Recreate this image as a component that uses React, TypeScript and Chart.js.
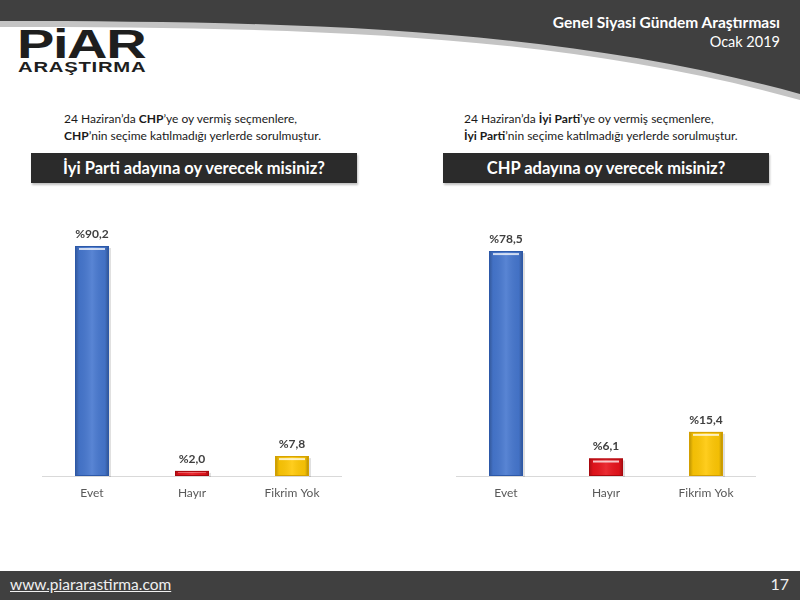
import React, { useEffect, useRef } from "react";
import { Chart, registerables } from "chart.js";

Chart.register(...registerables);

const categories = ["Evet", "Hayır", "Fikrim Yok"];
const leftValues = [90.2, 2.0, 7.8];
const rightValues = [78.5, 6.1, 15.4];
const leftValueLabels = ["%90,2", "%2,0", "%7,8"];
const rightValueLabels = ["%78,5", "%6,1", "%15,4"];
const barFill = ["#4677cf", "#e8141c", "#ffc805"];
const barEdge = ["#2c58a8", "#a8080e", "#d39f00"];

const FONT = "Lato, 'Open Sans', sans-serif";

const bevelPlugin = {
  id: "bevel",
  afterDatasetsDraw(chart: any) {
    const ctx = chart.ctx;
    const meta = chart.getDatasetMeta(0);
    meta.data.forEach((bar: any, i: number) => {
      const { x, y, base, width } = bar.getProps(["x", "y", "base", "width"], true);
      const l = x - width / 2;
      const r = x + width / 2;
      const h = base - y;
      ctx.save();
      const g = ctx.createLinearGradient(l, 0, r, 0);
      g.addColorStop(0, "rgba(0,0,0,0.28)");
      g.addColorStop(0.12, "rgba(0,0,0,0.05)");
      g.addColorStop(0.5, "rgba(255,255,255,0.10)");
      g.addColorStop(0.88, "rgba(0,0,0,0.05)");
      g.addColorStop(1, "rgba(0,0,0,0.32)");
      ctx.fillStyle = g;
      ctx.fillRect(l, y, width, h);
      if (h > 6) {
        ctx.fillStyle = "rgba(255,255,255,0.75)";
        ctx.fillRect(l + 4, y + 2, width - 8, 2);
      } else {
        ctx.fillStyle = "rgba(255,255,255,0.35)";
        ctx.fillRect(l + 3, y + 1, width - 6, 1);
      }
      ctx.fillStyle = "rgba(0,0,0,0.12)";
      ctx.fillRect(r, y + 2, 2, h - 1);
      ctx.strokeStyle = barEdge[i];
      ctx.lineWidth = 1;
      ctx.strokeRect(l + 0.5, y + 0.5, width - 1, h - 1);
      ctx.restore();
    });
  },
};

const valueLabelPlugin = {
  id: "valueLabels",
  afterDatasetsDraw(chart: any, _args: any, opts: any) {
    const ctx = chart.ctx;
    const meta = chart.getDatasetMeta(0);
    ctx.save();
    ctx.font = `bold 12px ${FONT}`;
    ctx.fillStyle = "#404040";
    ctx.textAlign = "center";
    ctx.textBaseline = "bottom";
    meta.data.forEach((bar: any, i: number) => {
      ctx.fillText(opts.labels[i], bar.x, bar.y - 6);
    });
    ctx.restore();
  },
};

function BarChart({ values, labels, max }: { values: number[]; labels: string[]; max: number }) {
  const ref = useRef<HTMLCanvasElement>(null);
  useEffect(() => {
    if (!ref.current) return;
    const chart = new Chart(ref.current, {
      type: "bar",
      data: {
        labels: categories,
        datasets: [
          {
            data: values,
            backgroundColor: barFill,
            borderWidth: 0,
            categoryPercentage: 1,
            barPercentage: 0.34,
          },
        ],
      },
      options: {
        animation: false,
        responsive: false,
        maintainAspectRatio: false,
        layout: { padding: { top: 21, bottom: 9.6, left: 0, right: 0 } },
        plugins: {
          legend: { display: false },
          tooltip: { enabled: false },
          valueLabels: { labels },
        } as any,
        scales: {
          x: {
            grid: { display: false, drawTicks: false },
            border: { display: true, color: "#d9d9d9", width: 1 },
            ticks: { color: "#595959", font: { family: FONT, size: 12 }, padding: 10 },
          },
          y: { display: false, min: 0, max },
        },
      },
      plugins: [bevelPlugin, valueLabelPlugin],
    });
    return () => chart.destroy();
  }, []);
  return <canvas ref={ref} width={300} height={320} style={{ width: 300, height: 320, display: "block" }} />;
}

export default function App() {
  const sub: React.CSSProperties = {
    position: "absolute",
    fontFamily: FONT,
    fontSize: 12,
    color: "#1a1a1a",
    lineHeight: "17px",
    whiteSpace: "nowrap",
  };
  const box: React.CSSProperties = {
    position: "absolute",
    top: 153,
    width: 326,
    height: 30,
    background: "#2b2b2b",
    color: "#ffffff",
    fontFamily: FONT,
    fontWeight: 700,
    fontSize: 16.5,
    lineHeight: "30px",
    textAlign: "center",
    boxShadow: "1px 2px 2px rgba(0,0,0,0.25)",
    whiteSpace: "nowrap",
  };
  return (
    <div style={{ position: "absolute", left: 0, top: 0, width: 800, height: 600, overflow: "hidden", background: "#ffffff" }}>
      <svg width={800} height={110} style={{ position: "absolute", left: 0, top: 0 }}>
        <path d="M0,0 H800 V100 C 560,33 300,27 0,27 Z" fill="#c4c4c4" />
        <path d="M0,0 H800 V94 C 560,28 300,21 0,21 Z" fill="#404040" />
      </svg>
      <div style={{ position: "absolute", right: 20, top: 13, color: "#fff", fontFamily: FONT, fontWeight: 700, fontSize: 15.5, whiteSpace: "nowrap" }}>
        Genel Siyasi Gündem Araştırması
      </div>
      <div style={{ position: "absolute", right: 20, top: 33, color: "#fff", fontFamily: FONT, fontSize: 14.5, whiteSpace: "nowrap" }}>
        Ocak 2019
      </div>
      <div style={{ position: "absolute", left: 17, top: 24, fontFamily: "'Liberation Sans', Arial, sans-serif", fontWeight: 900, fontSize: 40, color: "#1e1e1e", lineHeight: "40px", transform: "scaleX(1.4)", transformOrigin: "left top", letterSpacing: -1 }}>
        PiAR
      </div>
      <div style={{ position: "absolute", left: 18, top: 59, fontFamily: "'Liberation Sans', Arial, sans-serif", fontWeight: 700, fontSize: 14, color: "#1e1e1e", lineHeight: "16px", transform: "scaleX(1.45)", transformOrigin: "left top", letterSpacing: 0.5 }}>
        ARAŞTIRMA
      </div>

      <div style={{ ...sub, left: 64, top: 110 }}>
        24 Haziran’da <b>CHP</b>’ye oy vermiş seçmenlere,
        <br />
        <b>CHP</b>’nin seçime katılmadığı yerlerde sorulmuştur.
      </div>
      <div style={{ ...sub, left: 464, top: 110 }}>
        24 Haziran’da <b>İyi Parti</b>’ye oy vermiş seçmenlere,
        <br />
        <b>İyi Parti</b>’nin seçime katılmadığı yerlerde sorulmuştur.
      </div>

      <div style={{ ...box, left: 31 }}>İyi Parti adayına oy verecek misiniz?</div>
      <div style={{ ...box, left: 443 }}>CHP adayına oy verecek misiniz?</div>

      <div style={{ position: "absolute", left: 42, top: 200 }}>
        <BarChart values={leftValues} labels={leftValueLabels} max={100} />
      </div>
      <div style={{ position: "absolute", left: 456, top: 200 }}>
        <BarChart values={rightValues} labels={rightValueLabels} max={89} />
      </div>

      <div style={{ position: "absolute", left: 0, top: 571, width: 800, height: 29, background: "#404040" }} />
      <div style={{ position: "absolute", left: 10, top: 575, color: "#f0f0f0", fontFamily: FONT, fontSize: 15.5, textDecoration: "underline", whiteSpace: "nowrap" }}>
        www.piararastirma.com
      </div>
      <div style={{ position: "absolute", right: 11, top: 574, color: "#f0f0f0", fontFamily: FONT, fontSize: 16, whiteSpace: "nowrap" }}>
        17
      </div>
    </div>
  );
}
